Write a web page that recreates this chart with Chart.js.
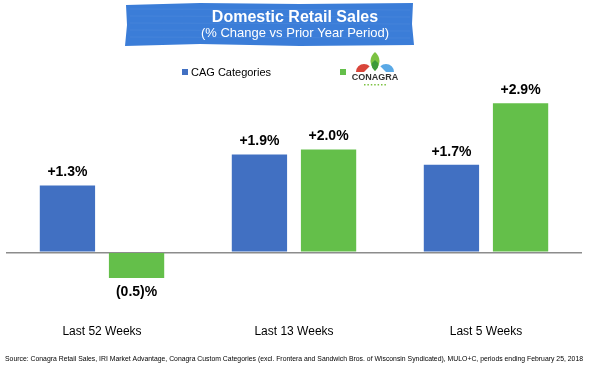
<!DOCTYPE html>
<html>
<head>
<meta charset="utf-8">
<script src="https://cdn.jsdelivr.net/npm/chart.js@4"></script>
<style>
  html, body { margin: 0; padding: 0; background: #fff; }
  #wrap { width: 589px; height: 367px; position: relative; }
</style>
</head>
<body>
<div id="wrap"><canvas id="salesChart"></canvas></div>
<script>
// Chart data
const periods = ['Last 52 Weeks', 'Last 13 Weeks', 'Last 5 Weeks'];
const cagCategories = [1.3, 1.9, 1.7];
const conagra = [-0.5, 2.0, 2.9];
const seriesNames = ['CAG Categories', 'Conagra Brands'];

const titleText = 'Domestic Retail Sales';
const subtitleText = '(% Change vs Prior Year Period)';
const sourceText = 'Source: Conagra Retail Sales, IRI Market Advantage, Conagra Custom Categories (excl. Frontera and Sandwich Bros. of Wisconsin Syndicated), MULO+C, periods ending February 25, 2018';

const BLUE = '#4170c2';
const GREEN = '#64bf4a';

function fmt(v) {
    return v < 0 ? '(' + Math.abs(v).toFixed(1) + ')%' : '+' + v.toFixed(1) + '%';
}

// banner, legend, logo, source line
const decorPlugin = {
    id: 'decor',
    afterDraw(chart) {
        const ctx = chart.ctx;
        ctx.save();
        // brush style banner
        ctx.fillStyle = '#3b7dd8';
        ctx.beginPath();
        ctx.moveTo(126, 5);
        ctx.lineTo(200, 3);
        ctx.lineTo(300, 4);
        ctx.lineTo(413, 3);
        ctx.lineTo(412, 24);
        ctx.lineTo(414, 45);
        ctx.lineTo(300, 46);
        ctx.lineTo(200, 44);
        ctx.lineTo(125, 46);
        ctx.lineTo(127, 25);
        ctx.closePath();
        ctx.fill();
        ctx.strokeStyle = 'rgba(255,255,255,0.05)';
        ctx.lineWidth = 1;
        for (let y = 9; y < 44; y += 7) {
            ctx.beginPath();
            ctx.moveTo(130, y);
            ctx.lineTo(410, y + 1);
            ctx.stroke();
        }
        ctx.fillStyle = '#fff';
        ctx.textAlign = 'center';
        ctx.textBaseline = 'middle';
        ctx.font = 'bold 16px "Liberation Sans", Arial, sans-serif';
        ctx.fillText(titleText, 295, 18);
        ctx.font = '13px "Liberation Sans", Arial, sans-serif';
        ctx.fillText(subtitleText, 295, 33);

        // legend
        ctx.fillStyle = BLUE;
        ctx.fillRect(182, 69, 6, 6);
        ctx.fillStyle = '#000';
        ctx.textAlign = 'left';
        ctx.font = '11px "Liberation Sans", Arial, sans-serif';
        ctx.fillText(seriesNames[0], 191, 73);
        ctx.fillStyle = GREEN;
        ctx.fillRect(340, 69, 6, 6);

        // small logo
        ctx.fillStyle = '#d9453a';
        ctx.beginPath();
        ctx.arc(364, 72, 8, Math.PI, Math.PI * 1.75);
        ctx.lineTo(364, 72);
        ctx.fill();
        ctx.fillStyle = '#5aa9e6';
        ctx.beginPath();
        ctx.arc(386, 72, 8, Math.PI * 1.25, Math.PI * 2);
        ctx.lineTo(386, 72);
        ctx.fill();
        ctx.fillStyle = '#7cc242';
        ctx.beginPath();
        ctx.moveTo(375, 52);
        ctx.quadraticCurveTo(384, 60, 375, 71);
        ctx.quadraticCurveTo(366, 60, 375, 52);
        ctx.fill();
        ctx.fillStyle = '#3d9a3a';
        ctx.beginPath();
        ctx.moveTo(375, 60);
        ctx.quadraticCurveTo(382, 65, 375, 71);
        ctx.quadraticCurveTo(368, 65, 375, 60);
        ctx.fill();
        ctx.fillStyle = '#333';
        ctx.textAlign = 'center';
        ctx.font = 'bold 9px "Liberation Sans", Arial, sans-serif';
        ctx.fillText('CONAGRA', 375, 78);
        ctx.fillStyle = '#7cc242';
        for (let i = 0; i < 7; i++) {
            ctx.fillRect(364 + i * 3.4, 84, 1.5, 1.5);
        }

        // source footnote
        ctx.fillStyle = '#000';
        ctx.textAlign = 'left';
        ctx.font = '7.3px "Liberation Sans", Arial, sans-serif';
        ctx.fillText(sourceText, 5, 359, 578);
        ctx.restore();
    }
};

// value labels above / below bars
const valueLabels = {
    id: 'valueLabels',
    afterDatasetsDraw(chart) {
        const ctx = chart.ctx;
        ctx.save();
        ctx.fillStyle = '#000';
        ctx.font = 'bold 14px "Liberation Sans", Arial, sans-serif';
        ctx.textAlign = 'center';
        ctx.textBaseline = 'middle';
        chart.data.datasets.forEach((ds, i) => {
            chart.getDatasetMeta(i).data.forEach((bar, j) => {
                const v = ds.data[j];
                const y = v < 0 ? bar.y + 14 : bar.y - 13;
                ctx.fillText(fmt(v), bar.x, y);
            });
        });
        ctx.restore();
    }
};

const ctx = document.getElementById('salesChart').getContext('2d');
new Chart(ctx, {
    type: 'bar',
    data: {
        labels: periods,
        datasets: [
            {
                label: seriesNames[0],
                data: cagCategories,
                backgroundColor: BLUE,
                categoryPercentage: 0.72,
                barPercentage: 0.8,
            },
            {
                label: seriesNames[1],
                data: conagra,
                backgroundColor: GREEN,
                categoryPercentage: 0.72,
                barPercentage: 0.8,
            }
        ]
    },
    options: {
        responsive: true,
        maintainAspectRatio: false,
        animation: false,
        layout: {
            padding: { left: 6, right: 7, top: 80, bottom: 2 }
        },
        plugins: {
            legend: { display: false },
            tooltip: { enabled: false },
        },
        scales: {
            x: {
                grid: { display: false, drawTicks: false },
                border: { display: false },
                ticks: {
                    padding: 26,
                    color: '#000',
                    font: { size: 12, family: '"Liberation Sans", Arial, sans-serif' }
                }
            },
            y: {
                min: -0.9,
                max: 3.35,
                afterBuildTicks: axis => { axis.ticks = [{ value: 0 }]; },
                ticks: { display: false },
                border: { display: false },
                grid: { drawTicks: false, color: '#8c8c8c', lineWidth: 1.5 }
            }
        }
    },
    plugins: [valueLabels, decorPlugin]
});
</script>
</body>
</html>
